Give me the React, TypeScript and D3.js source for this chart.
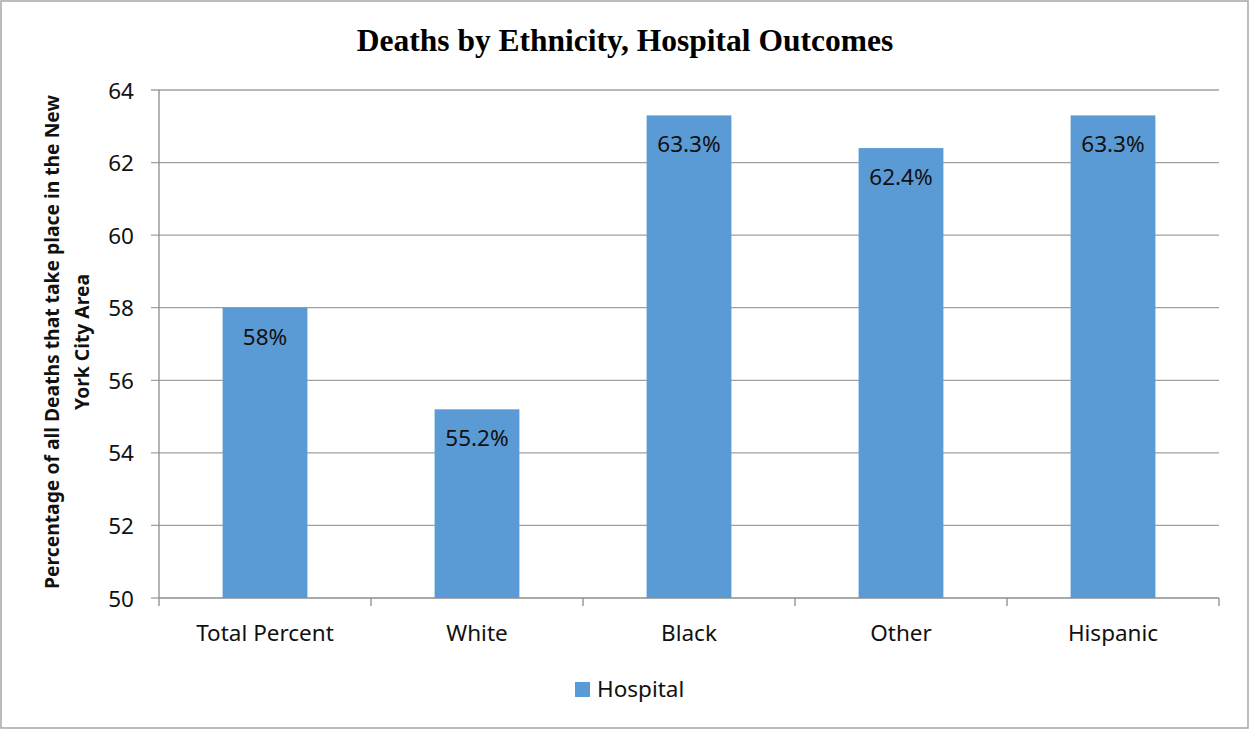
import React from "react";
import * as d3 from "d3";

const categories = ["Total Percent", "White", "Black", "Other", "Hispanic"];
const hospitalValues = [58, 55.2, 63.3, 62.4, 63.3];
const valueLabels = ["58%", "55.2%", "63.3%", "62.4%", "63.3%"];
const yTicks = [50, 52, 54, 56, 58, 60, 62, 64];
const seriesName = "Hospital";
const title = "Deaths by Ethnicity, Hospital Outcomes";
const yTitleLines = ["Percentage of all Deaths that take place in the New", "York City Area"];

const W = 1249;
const H = 729;
const left = 159;
const right = 1219;
const top = 90;
const bottom = 598;
const barColor = "#5B9BD5";
const font = "'Noto Sans', 'Open Sans', sans-serif";
const fs = 22.5;

export default function App() {
  const x = d3.scaleBand<string>().domain(categories).range([left, right]).paddingInner(0.6).paddingOuter(0.3);
  const band = d3.scaleBand<string>().domain(categories).range([left, right]);
  const y = d3.scaleLinear().domain([50, 64]).range([bottom, top]);

  return (
    <svg width={W} height={H} style={{ position: "absolute", left: 0, top: 0 }}>
      <rect x={1} y={1} width={W - 2} height={H - 2} fill="#fff" stroke="#A6A6A6" strokeWidth={1.5} />
      <text x={625} y={51} textAnchor="middle" fontFamily="'Liberation Serif', 'Times New Roman', serif" fontWeight="bold" fontSize={31.5}>
        {title}
      </text>
      {yTicks.map((t) => (
        <g key={t}>
          <line x1={left - 8} x2={t === 50 ? left : right} y1={y(t)} y2={y(t)} stroke="#A0A0A0" strokeWidth={1.3} />
          <text x={left - 25} y={y(t) + 8.5} textAnchor="end" fontFamily={font} fontSize={fs} fill="#111">
            {t}
          </text>
        </g>
      ))}
      {categories.map((c, i) => (
        <rect key={c} x={x(c)} y={y(hospitalValues[i])} width={x.bandwidth()} height={bottom - y(hospitalValues[i])} fill={barColor} />
      ))}
      <line x1={left} x2={left} y1={top} y2={bottom} stroke="#8C8C8C" strokeWidth={1.3} />
      <line x1={left} x2={right} y1={bottom} y2={bottom} stroke="#8C8C8C" strokeWidth={1.3} />
      {categories.map((c) => (
        <line key={"t" + c} x1={band(c)!} x2={band(c)!} y1={bottom} y2={bottom + 8} stroke="#8C8C8C" strokeWidth={1.3} />
      ))}
      <line x1={right} x2={right} y1={bottom} y2={bottom + 8} stroke="#8C8C8C" strokeWidth={1.3} />
      {categories.map((c, i) => (
        <text key={"l" + c} x={x(c)! + x.bandwidth() / 2} y={y(hospitalValues[i]) + 37} textAnchor="middle" fontFamily={font} fontSize={fs} fill="#111">
          {valueLabels[i]}
        </text>
      ))}
      {categories.map((c) => (
        <text key={"c" + c} x={x(c)! + x.bandwidth() / 2} y={641} textAnchor="middle" fontFamily={font} fontSize={fs} fill="#111">
          {c}
        </text>
      ))}
      <g transform="translate(59,342) rotate(-90)">
        <text x={0} y={0} textAnchor="middle" fontFamily={font} fontWeight="bold" fontSize={19.3} fill="#111">
          {yTitleLines[0]}
        </text>
        <text x={0} y={30} textAnchor="middle" fontFamily={font} fontWeight="bold" fontSize={19.3} fill="#111">
          {yTitleLines[1]}
        </text>
      </g>
      <rect x={575} y={682} width={15} height={15} fill={barColor} />
      <text x={597} y={697} fontFamily={font} fontSize={fs} fill="#111">
        {seriesName}
      </text>
    </svg>
  );
}
